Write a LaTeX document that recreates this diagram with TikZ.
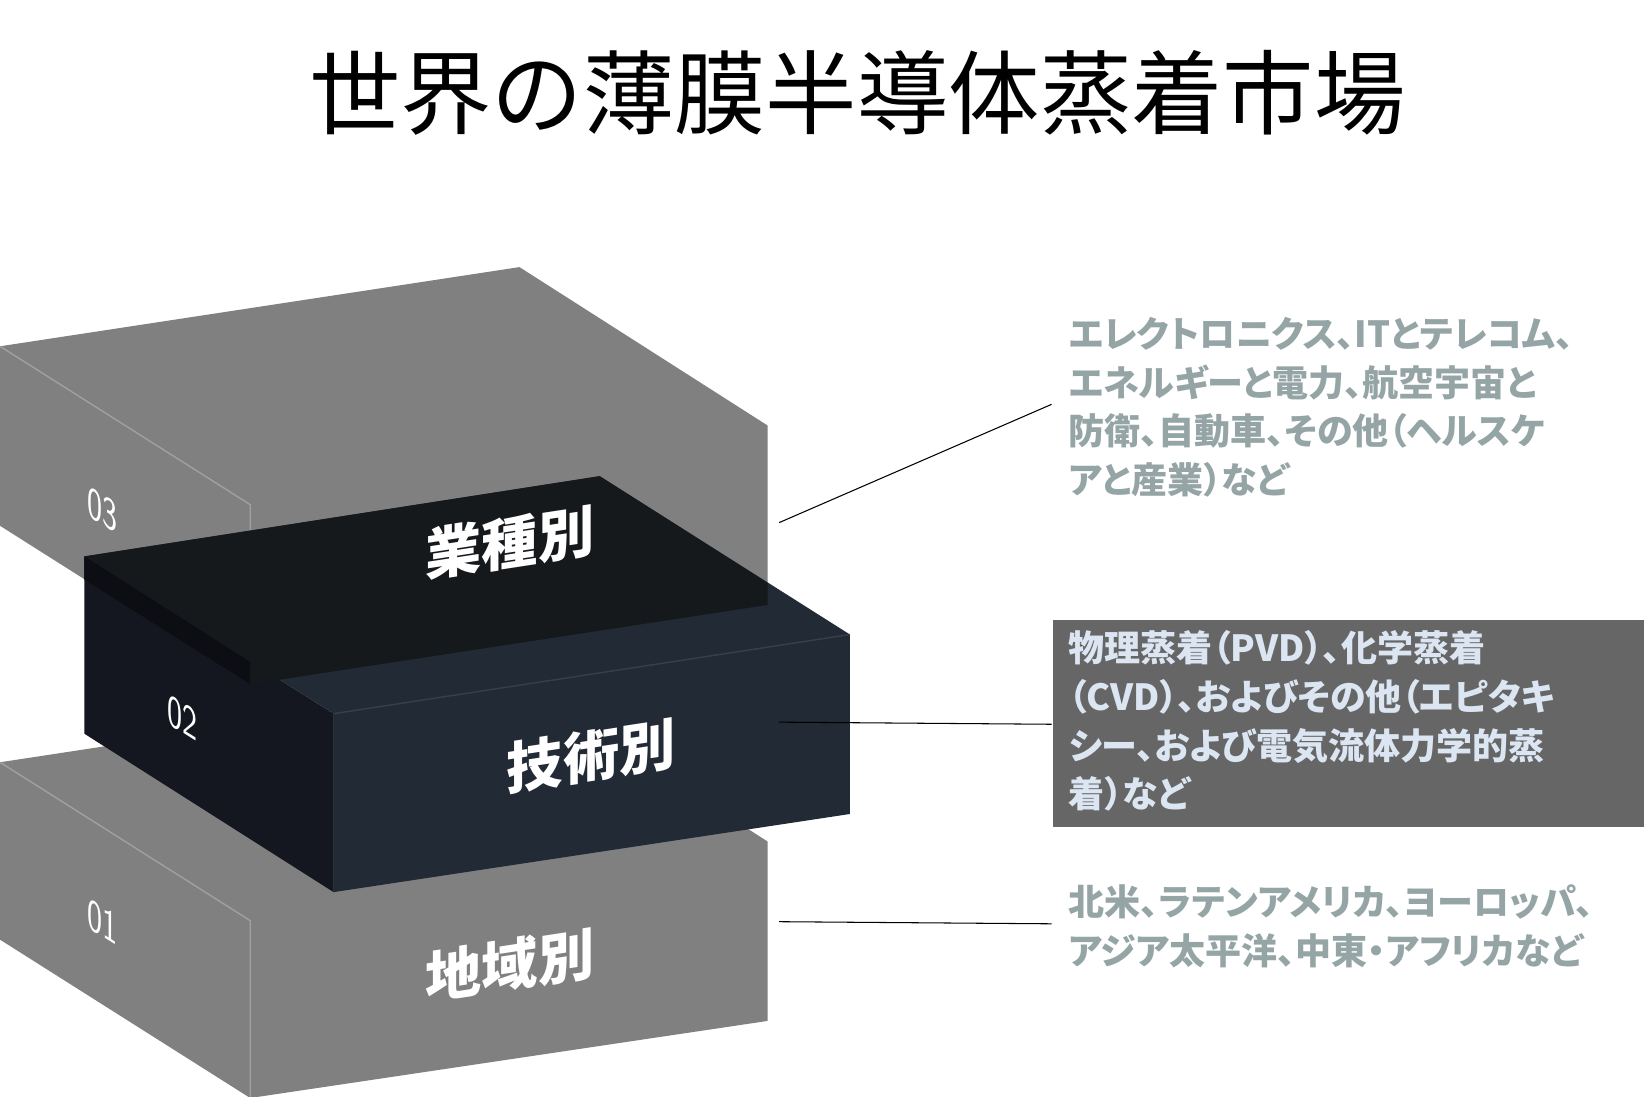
\documentclass[tikz,border=0pt]{standalone}
\usepackage{fontspec}
\newfontfamily\cjk{Noto Sans CJK JP}[RawFeature=+palt]
\newfontfamily\cjkt{Noto Sans CJK JP}
\begin{document}
\begin{tikzpicture}[x=0.02112cm,y=-0.02112cm,
  side/.style={font=\cjk\fontsize{20.5}{27.7}\selectfont\bfseries, text=sidegray, align=left, anchor=north west, inner sep=0pt},
  big/.style={font=\cjk\bfseries\fontsize{32}{34}\selectfont, text=white, yslant=0.153},
  num/.style={font=\sffamily\fontsize{26}{28}\selectfont, text=white, yslant=-0.63, xscale=0.7},
  conn/.style={draw=black, line width=0.6pt}]
\definecolor{sidegray}{HTML}{95A5A6}
\definecolor{blk}{HTML}{808080}
\definecolor{dtop}{HTML}{222A35}
\definecolor{dleft}{HTML}{14171F}
\definecolor{ovl}{HTML}{15191C}
\definecolor{boxtext}{HTML}{DCE6F2}
\useasboundingbox (0,0) rectangle (1560,1039);
\fill[white] (0,0) rectangle (1560,1039);
\node[font=\cjkt\fontsize{52}{56}\selectfont] (title) at (812,88) {世界の薄膜半導体蒸着市場};
% block 01
\fill[blk] (0,722) -- (492,647) -- (727,797) -- (727,967) -- (237,1040) -- (0,890) -- cycle;
\draw[white!25!blk, line width=0.8pt] (0,722) -- (237,872) -- (237,1040);
% block 03
\fill[blk] (0,328) -- (492,253) -- (727,403) -- (727,573) -- (237,648) -- (0,498) -- cycle;
\draw[white!25!blk, line width=0.8pt] (0,328) -- (237,478) -- (237,648);
% block 02
\fill[dtop] (80,527) -- (568,451) -- (805,601) -- (805,771) -- (316,845) -- (316,676) -- cycle;
\fill[dleft] (80,527) -- (316,676) -- (316,845) -- (80,695) -- cycle;
\draw[white!10!dtop, line width=0.8pt] (316,676) -- (805,601);
\fill[ovl] (80,527) -- (568,451) -- (727,552) -- (727,573) -- (237,648) -- (80,549) -- cycle;
\fill[black!40!dleft] (80,527) -- (237,627) -- (237,648) -- (80,549) -- cycle;
% labels
\node[big] (l3) at (483,514) {業種別};
\node[big] (l2) at (560,716) {技術別};
\node[big] (l1) at (483,914) {地域別};
\node[num] (n3) at (97,483) {03};
\node[num] (n2) at (173,680) {02};
\node[num] (n1) at (97,873) {01};
% right texts
\node[side] (t3) at (1012,300) {エレクトロニクス、ITとテレコム、\\エネルギーと電力、航空宇宙と\\防衛、自動車、その他（ヘルスケ\\アと産業）など};
\fill[black!60] (997,587) rectangle (1557,783);
\node[side, text=boxtext] (t2) at (1012,597) {物理蒸着（PVD）、化学蒸着\\（CVD）、およびその他（エピタキ\\シー、および電気流体力学的蒸\\着）など};
\node[side] (t1) at (1012,838) {北米、ラテンアメリカ、ヨーロッパ、\\アジア太平洋、中東・アフリカなど};
\coordinate (a3) at (738,495); \coordinate (b3) at (996,383);
\coordinate (a2) at (738,684); \coordinate (b2) at (996,686);
\coordinate (a1) at (738,873); \coordinate (b1) at (996,875);
\draw[conn] (a3) -- (b3);
\draw[conn] (a2) -- (b2);
\draw[conn] (a1) -- (b1);
\end{tikzpicture}
\end{document}
